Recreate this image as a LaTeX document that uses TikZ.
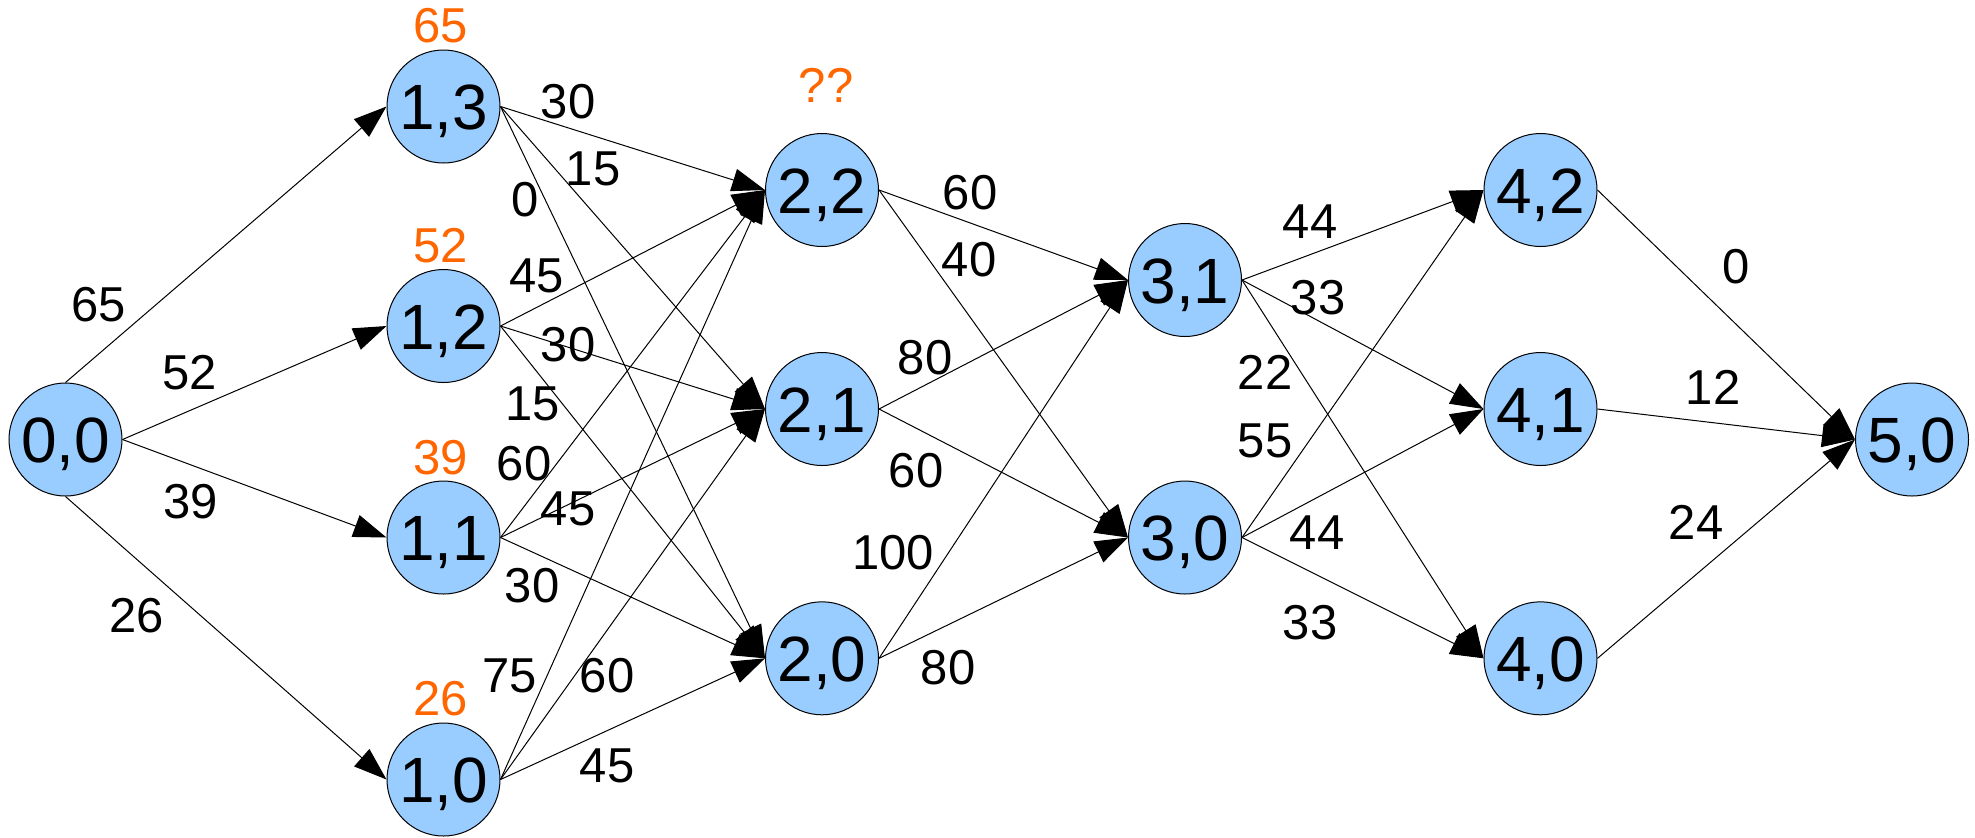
\documentclass[tikz,border=0pt]{standalone}
\usepackage{fontspec}
\setmainfont{Liberation Sans}
\usetikzlibrary{arrows.meta}
\definecolor{nodeblue}{HTML}{99CCFF}
\definecolor{valorange}{HTML}{FF6600}
\begin{document}
\begin{tikzpicture}[x=0.5pt,y=-0.5pt,
  st/.style={circle,draw=black,line width=0.5pt,fill=nodeblue,minimum size=56.5pt,inner sep=0pt,
    font=\fontsize{32}{36}\selectfont,text height=23pt,text depth=0pt},
  edge/.style={line width=0.5pt,-{Triangle[length=16.5pt,width=11.5pt]}},
  wl/.style={inner sep=0pt,font=\fontsize{24.5}{28}\selectfont,text height=17.5pt,text depth=0pt},
  vl/.style={wl,text=valorange}]
\useasboundingbox (0,0) rectangle (1975,837);
% nodes
\node[st] (n00) at (65.5,439.5) {0,0};
\node[st] (n13) at (443.5,106.5) {1,3};
\node[st] (n12) at (443.5,326) {1,2};
\node[st] (n11) at (443.5,537.5) {1,1};
\node[st] (n10) at (443.5,779.5) {1,0};
\node[st] (n22) at (822,190) {2,2};
\node[st] (n21) at (822,409) {2,1};
\node[st] (n20) at (822,658.3) {2,0};
\node[st] (n31) at (1185,280) {3,1};
\node[st] (n30) at (1185,537.5) {3,0};
\node[st] (n42) at (1540.5,190) {4,2};
\node[st] (n41) at (1540.5,409) {4,1};
\node[st] (n40) at (1540.5,658.3) {4,0};
\node[st] (n50) at (1912,439.5) {5,0};
% orange values
\node[vl] (v13) at (441,25) {65};
\node[vl] (v12) at (441,245) {52};
\node[vl] (v11) at (441,457) {39};
\node[vl] (v10) at (441,698) {26};
\node[vl] (v22) at (826,85) {??};
% edges
\draw[edge] (n00.north) -- (n13.west);
\draw[edge] (n00.east) -- (n12.west);
\draw[edge] (n00.east) -- (n11.west);
\draw[edge] (n00.south) -- (n10.west);
\foreach \s in {n13,n12,n11,n10}{
  \foreach \t in {n22,n21,n20}{
    \draw[edge] (\s.east) -- (\t.west);
  }
}
\foreach \s in {n22,n21,n20}{
  \foreach \t in {n31,n30}{
    \draw[edge] (\s.east) -- (\t.west);
  }
}
\foreach \s in {n31,n30}{
  \foreach \t in {n42,n41,n40}{
    \draw[edge] (\s.east) -- (\t.west);
  }
}
\foreach \s in {n42,n41,n40}{
  \draw[edge] (\s.east) -- (n50.west);
}
% edge labels
\node[wl] (l1) at (99,304) {65};
\node[wl] (l2) at (190,372) {52};
\node[wl] (l3) at (191,501) {39};
\node[wl] (l4) at (137,615) {26};
\node[wl] (l5) at (568,101) {30};
\node[wl] (l6) at (593,168) {15};
\node[wl] (l7) at (525,199) {0};
\node[wl] (l8) at (537,275) {45};
\node[wl] (l9) at (568,344) {30};
\node[wl] (l10) at (533,403) {15};
\node[wl] (l11) at (524,463) {60};
\node[wl] (l12) at (568,508) {45};
\node[wl] (l13) at (532,585) {30};
\node[wl] (l14) at (510,675) {75};
\node[wl] (l15) at (607,675) {60};
\node[wl] (l16) at (607,765) {45};
\node[wl] (l17) at (970,192) {60};
\node[wl] (l18) at (969,259) {40};
\node[wl] (l19) at (925,357) {80};
\node[wl] (l20) at (916,470) {60};
\node[wl] (l21) at (893,552) {100};
\node[wl] (l22) at (948,667) {80};
\node[wl] (l23) at (1310,221) {44};
\node[wl] (l24) at (1318,297) {33};
\node[wl] (l25) at (1265,372) {22};
\node[wl] (l26) at (1265,440) {55};
\node[wl] (l27) at (1317,532) {44};
\node[wl] (l28) at (1310,622) {33};
\node[wl] (l29) at (1736,266) {0};
\node[wl] (l30) at (1713,387) {12};
\node[wl] (l31) at (1696,522) {24};
\end{tikzpicture}
\end{document}
